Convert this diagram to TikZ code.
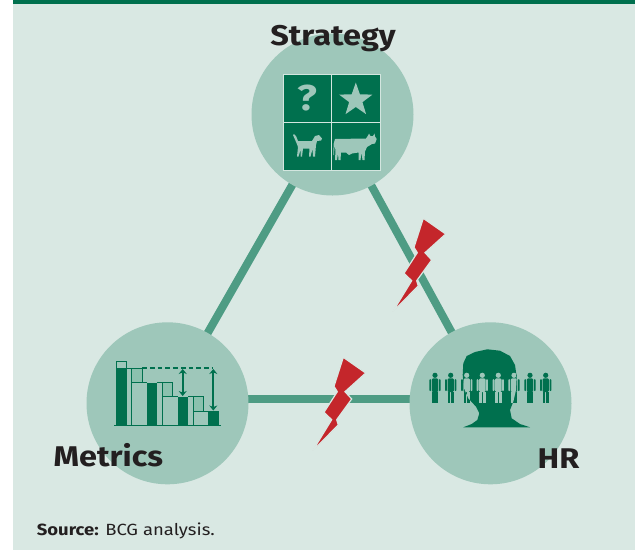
\documentclass[tikz,border=0pt]{standalone}
\usepackage{fontspec}
\setmainfont{Fira Sans}[FakeStretch=1.14]
\usetikzlibrary{shapes.geometric,arrows.meta}
\definecolor{bg}{HTML}{D9E8E3}
\definecolor{dg}{HTML}{00704E}
\definecolor{cf}{HTML}{9EC7BA}
\definecolor{ln}{HTML}{4E9C84}
\definecolor{lb}{HTML}{8BC1AE}
\definecolor{boltred}{HTML}{C4262B}
\definecolor{gridc}{HTML}{D3E6DF}
\definecolor{ink}{HTML}{231F20}
\newcommand\hrpeople[1]{%
  \foreach \cx in {435,450.7,466.7,482.3,498.3,514,530,545.7}{%
    \fill[#1] (\cx,375.3) circle (2.6);
    \fill[#1,rounded corners=1.2] (\cx-3.2,378.4) rectangle (\cx+3.2,392);
    \fill[#1,rounded corners=0.8] (\cx-5.6,379.2) rectangle (\cx-3.8,391);
    \fill[#1,rounded corners=0.8] (\cx+3.8,379.2) rectangle (\cx+5.6,391);
    \fill[#1] (\cx-3.2,391.5) rectangle (\cx-0.4,403.3);
    \fill[#1] (\cx+0.4,391.5) rectangle (\cx+3.2,403.3);
  }}
\tikzset{
  hub/.style={circle, fill=cf, minimum size=162pt, inner sep=0pt},
  link/.style={draw=ln, line width=8pt},
  lbl/.style={font=\fontsize{28.5}{31}\selectfont\bfseries, text=ink, inner sep=0pt},
  cell/.style={fill=dg, draw=gridc, line width=0.9pt},
  wf/.style={draw=dg, line width=0.9pt},
  dblarrow/.style={draw=dg, line width=1.8pt, {Stealth[length=5pt,width=8pt]}-{Stealth[length=5pt,width=8pt]}},
  boltshape/.style={fill=boltred, draw=bg, line width=1.2pt, line join=miter},
}
\begin{document}
\begin{tikzpicture}[x=1pt,y=-1pt]
\useasboundingbox (0,0) rectangle (635,550);
\fill[bg] (13,0) rectangle (635,550);
\fill[dg] (13,0) rectangle (635,3.5);

% centres
\coordinate (sc) at (332.5,114.5);
\coordinate (mc) at (167.5,403.3);
\coordinate (hc) at (490.5,403.3);

% connectors
\draw[link] (sc) -- (mc);
\draw[link] (sc) -- (hc);
\draw[link] ([yshift=4pt]mc) -- ([yshift=4pt]hc);

% circles
\node[hub] (s) at (sc) {};
\node[hub] (m) at (mc) {};
\node[hub] (h) at (hc) {};

% labels
\node[lbl, anchor=base] (st) at (333,45) {Strategy};
\node[lbl, anchor=base] (mt) at (108.4,466.7) {Metrics};
\node[lbl, anchor=base] (ht) at (558.5,468) {HR};
\node[anchor=base west, inner sep=0pt, font=\fontsize{16.2}{19}\selectfont, text=ink] (src) at (36.7,535.7) {\textbf{Source:} BCG analysis.};

% strategy matrix
\foreach \x/\y in {283.3/74, 331.7/74, 283.3/122.3, 331.7/122.3}
  \filldraw[cell] (\x,\y) rectangle ++(48.3,48.3);
\node[font=\fontsize{36}{36}\selectfont\bfseries, text=cf, inner sep=0pt] (q) at (307.5,98.5) {?};
\node[star, star points=5, star point ratio=2.5, fill=cf, minimum size=35pt, inner sep=0pt] (sr) at (355.8,100) {};
% dog
\fill[cf] (294,134) -- (296,136) -- (298,141) -- (312,141) -- (315,136) -- (319,135) -- (322,138.5) -- (321,140.5) -- (317,141) -- (316,145) -- (315,156.5) -- (313,156.5) -- (312.5,149) -- (310.5,156.5) -- (309,156.5) -- (309.5,148.5) -- (303,148.5) -- (302,156.5) -- (300.5,156.5) -- (300.5,150) -- (298.5,156.5) -- (297,156.5) -- (298,147) -- (296.5,143) -- (293,135) -- cycle;
% cow
\fill[cf] (335,139) -- (366,138.5) -- (368,135.5) -- (369,133.5) -- (370.5,136) -- (373,136) -- (374.5,133.5) -- (375,136.5) -- (376.7,139) -- (375,143.5) -- (372,144) -- (367,147) -- (365,151.5) -- (364.5,160) -- (362.5,160) -- (361.5,152.5) -- (360.5,160) -- (358.5,160) -- (358.5,152.5) -- (352,153.5) -- (349,155) -- (346,152.5) -- (341,152.5) -- (340.5,160) -- (338.5,160) -- (338,153) -- (337,160) -- (335,160) -- (335.5,150) -- (334.5,146) -- (334,155) -- (333.3,155) -- (333.6,144) -- cycle;

% waterfall
\draw[dg, line width=1.2pt] (114,425.7) -- (220.7,425.7);
\draw[wf] (116.7,361) rectangle (126.7,425.7);
\fill[dg] (116.7,368.3) rectangle (126.7,425.7);
\draw[wf] (126.7,368.3) -- (131.7,368.3);
\filldraw[wf, fill=lb] (131.7,368.3) rectangle (142.3,382.7);
\draw[wf] (131.7,382.7) -- (131.7,425.7);
\draw[wf] (142.3,382.7) -- (147.3,382.7);
\fill[dg] (147.3,382.7) rectangle (157.3,425.7);
\draw[wf] (157.3,382.7) -- (162.3,382.7);
\filldraw[wf, fill=lb] (162.3,382.7) rectangle (172.3,396.7);
\draw[wf] (162.3,396.7) -- (162.3,425.7);
\draw[wf] (172.3,396.7) -- (177.7,396.7);
\fill[dg] (177.7,396.7) rectangle (188.3,425.7);
\draw[wf] (188.3,396.7) -- (193.3,396.7);
\filldraw[wf, fill=lb] (193.3,396.7) rectangle (203.3,411);
\draw[wf] (193.3,411) -- (193.3,425.7);
\draw[wf] (203.3,411) -- (208.3,411);
\fill[dg] (208.3,411) rectangle (219,425.7);
\draw[dg, line width=1.8pt, dash pattern=on 4.7pt off 3pt] (142.3,368.3) -- (213.3,368.3);
\draw[dblarrow] (182.7,369) -- (182.7,396);
\draw[dblarrow] (213.3,369) -- (213.3,410.5);

% HR head and people
\fill[dg] (463.3,427.3) -- (471.7,424) -- (477.3,420) -- (479.3,413.3) -- (476,406.7) -- (468.3,398.3) -- (464,388.3) -- (462.7,375) -- (463.3,363.3) -- (466.7,356) -- (475,352) -- (487.3,349.3) -- (500,350.7) -- (510,356) -- (515,365) -- (516.7,376.7) -- (516,390) -- (513.3,401.7) -- (510,410) -- (511.7,418.3) -- (520,424) -- (530,427.3) -- cycle;
\hrpeople{dg}
\begin{scope}
\clip (463.3,427.3) -- (471.7,424) -- (477.3,420) -- (479.3,413.3) -- (476,406.7) -- (468.3,398.3) -- (464,388.3) -- (462.7,375) -- (463.3,363.3) -- (466.7,356) -- (475,352) -- (487.3,349.3) -- (500,350.7) -- (510,356) -- (515,365) -- (516.7,376.7) -- (516,390) -- (513.3,401.7) -- (510,410) -- (511.7,418.3) -- (520,424) -- (530,427.3) -- cycle;
\hrpeople{cf}
\end{scope}

% lightning bolts
\foreach \bx/\by in {423.3/218.3, 343.3/357.3}{
  \begin{scope}[shift={(\bx,\by)}]
  \filldraw[boltshape] (0,0) -- (22.4,15.7) -- (1.7,34.4) -- (8.4,41.7) -- (-6.6,62.4) -- (-5,67.7) -- (-30.6,93.4) -- (-11.6,62.4) -- (-19.3,55) -- (-6,34.4) -- (-9.3,29) -- cycle;
  \end{scope}
}
\end{tikzpicture}
\end{document}
